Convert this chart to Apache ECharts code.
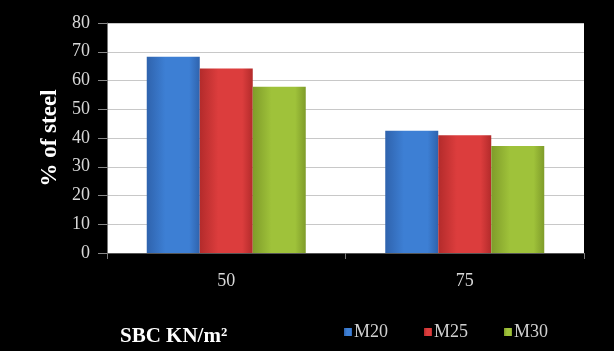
<!DOCTYPE html>
<html>
<head>
<meta charset="utf-8">
<style>
  html, body { margin: 0; padding: 0; background: #000; }
  #chart { width: 614px; height: 351px; }
</style>
<script src="https://cdn.jsdelivr.net/npm/echarts@6/dist/echarts.min.js"></script>
</head>
<body>
<div id="chart"></div>
<script>
// SBC (KN/m²) categories and % of steel per concrete grade
const categories = ['50', '75'];
const seriesNames = ['M20', 'M25', 'M30'];
const m20 = [68.3, 42.5];
const m25 = [64.2, 41.0];
const m30 = [57.8, 37.2];
const yTicks = { min: 0, max: 80, step: 10 };

const serif = 'Liberation Serif, Times New Roman, serif';

// shaded column fill: darker edges, lighter body
function barFill(edge, mid) {
  return new echarts.graphic.LinearGradient(0, 0, 1, 0, [
    { offset: 0, color: edge },
    { offset: 0.35, color: mid },
    { offset: 0.8, color: mid },
    { offset: 1, color: edge }
  ]);
}

const palette = [
  { edge: '#2f63ad', mid: '#3d7fd4' },
  { edge: '#b32b2b', mid: '#dc3d3d' },
  { edge: '#7f9c2a', mid: '#9fc23a' }
];

function barSeries(name, data, i) {
  return {
    name: name,
    type: 'bar',
    data: data,
    barWidth: 53,
    barGap: '0%',
    itemStyle: { color: barFill(palette[i].edge, palette[i].mid) }
  };
}

const chart = echarts.init(document.getElementById('chart'), null, { renderer: 'canvas' });
chart.setOption({
  backgroundColor: '#000',
  animation: false,
  color: ['#3d7fd4', '#dc3d3d', '#9fc23a'],
  title: {
    text: 'SBC KN/m²',
    left: 115,
    top: 321,
    textStyle: { color: '#ffffff', fontFamily: serif, fontWeight: 'bold', fontSize: 21 }
  },
  legend: {
    data: seriesNames,
    left: 339,
    top: 318,
    icon: 'rect',
    itemWidth: 8,
    itemHeight: 8,
    itemGap: 36,
    textStyle: { color: '#d0d0d0', fontFamily: serif, fontSize: 18, padding: [0, 0, 0, -3] }
  },
  grid: {
    left: 107, right: 30, top: 23, bottom: 98,
    show: true, backgroundColor: '#ffffff', borderWidth: 0
  },
  xAxis: {
    type: 'category',
    data: categories,
    axisLine: { show: true, lineStyle: { color: '#555', width: 1 } },
    axisTick: { show: true, length: 6, lineStyle: { color: '#777' } },
    axisLabel: { color: '#d8d8d8', fontFamily: serif, fontSize: 18, margin: 19 }
  },
  yAxis: {
    type: 'value',
    min: yTicks.min,
    max: yTicks.max,
    interval: yTicks.step,
    name: '% of steel',
    nameLocation: 'middle',
    nameRotate: 90,
    nameGap: 42,
    nameTextStyle: { color: '#ffffff', fontFamily: serif, fontWeight: 'bold', fontSize: 23 },
    axisLine: { show: true, lineStyle: { color: '#777' } },
    axisTick: { show: true, length: 9, lineStyle: { color: '#888' } },
    axisLabel: { color: '#d8d8d8', fontFamily: serif, fontSize: 18, margin: 17 },
    splitLine: { show: true, lineStyle: { color: '#c8c8c8', width: 1 } }
  },
  series: [
    barSeries(seriesNames[0], m20, 0),
    barSeries(seriesNames[1], m25, 1),
    barSeries(seriesNames[2], m30, 2)
  ]
});
</script>
</body>
</html>
